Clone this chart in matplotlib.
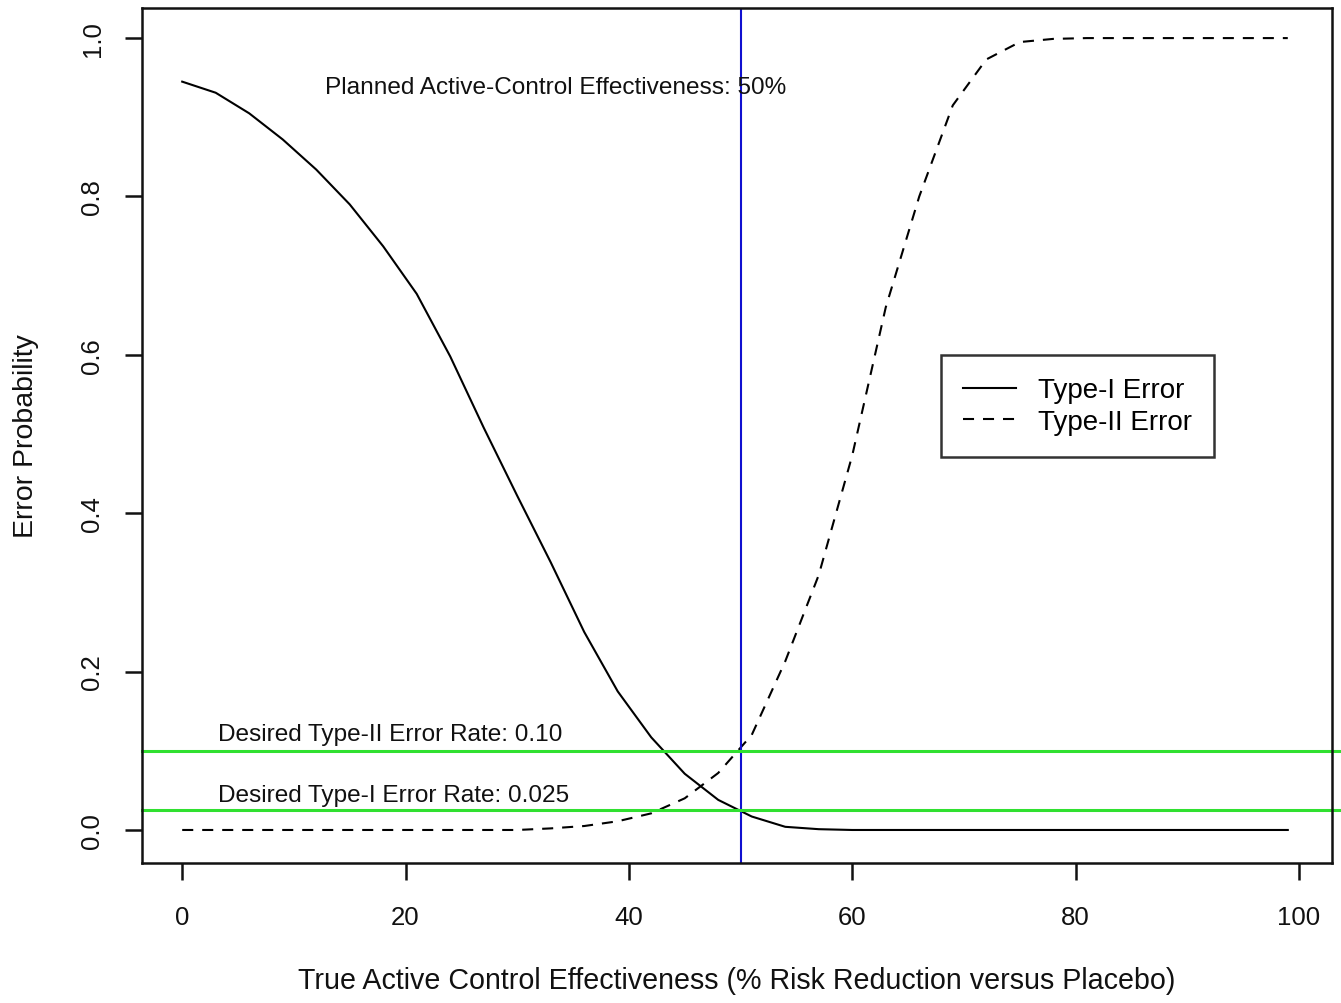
import matplotlib
matplotlib.use("Agg")
import matplotlib.pyplot as plt

plt.rcParams['font.family'] = ['Liberation Sans', 'DejaVu Sans']

# Data
effectiveness = [0, 3, 6, 9, 12, 15, 18, 21, 24, 27, 30, 33, 36, 39, 42, 45, 48,
                 51, 54, 57, 60, 63, 66, 69, 72, 75, 78, 81, 84, 87, 90, 93, 96, 99]
type1_error = [0.945, 0.931, 0.905, 0.872, 0.834, 0.790, 0.737, 0.677, 0.598, 0.508,
               0.422, 0.338, 0.250, 0.175, 0.117, 0.071, 0.038, 0.017, 0.004, 0.001,
               0.0, 0.0, 0.0, 0.0, 0.0, 0.0, 0.0, 0.0, 0.0, 0.0, 0.0, 0.0, 0.0, 0.0]
type2_error = [0.0, 0.0, 0.0, 0.0, 0.0, 0.0, 0.0, 0.0, 0.0, 0.0, 0.0, 0.002, 0.005,
               0.011, 0.021, 0.040, 0.072, 0.120, 0.213, 0.322, 0.473, 0.660, 0.800,
               0.915, 0.973, 0.995, 0.999, 1.0, 1.0, 1.0, 1.0, 1.0, 1.0, 1.0]
planned_effectiveness = 50
desired_type2 = 0.10
desired_type1 = 0.025
x_ticks = [0, 20, 40, 60, 80, 100]
y_ticks = [0.0, 0.2, 0.4, 0.6, 0.8, 1.0]
y_tick_labels = ["0.0", "0.2", "0.4", "0.6", "0.8", "1.0"]

W, H = 1341, 1004
fig = plt.figure(figsize=(W / 100, H / 100), dpi=100)
ax = fig.add_axes([142 / W, 1 - 864 / H, (1332 - 142) / W, (864 - 9) / H])

ax.plot(effectiveness, type1_error, color='black', lw=1.5, label='Type-I Error')
ax.plot(effectiveness, type2_error, color='black', lw=1.5, dashes=(5.3, 4.3),
        label='Type-II Error')

ax.axvline(planned_effectiveness, color='#1010d0', lw=1.5)
ax.axhline(desired_type2, xmin=0, xmax=1.01, color='#30e030', lw=2.2, clip_on=False)
ax.axhline(desired_type1, xmin=0, xmax=1.01, color='#30e030', lw=2.2, clip_on=False)

ann = 17.6
ax.text(33.4, 0.938, "Planned Active-Control Effectiveness: 50%", ha='center',
        va='center', fontsize=ann, color='#111111')
ax.text(3.2, 0.121, "Desired Type-II Error Rate: 0.10", ha='left', va='center',
        fontsize=ann, color='#111111')
ax.text(3.2, 0.044, "Desired Type-I Error Rate: 0.025", ha='left', va='center',
        fontsize=ann, color='#111111')

ax.set_xlim(-3.6, 102.96)
ax.set_ylim(-0.0417, 1.038)
ax.set_xticks(x_ticks)
ax.set_yticks(y_ticks)
ax.set_yticklabels(y_tick_labels, rotation=90, va='center')
ax.tick_params(axis='both', direction='out', length=12, width=1.8, labelsize=18.5,
               colors='#111111')
ax.tick_params(axis='x', pad=18)
ax.tick_params(axis='y', pad=15)
for s in ax.spines.values():
    s.set_linewidth(1.8)
    s.set_color('#111111')

ax.set_xlabel("True Active Control Effectiveness (% Risk Reduction versus Placebo)",
              fontsize=20.6, labelpad=27, color='#111111')
ax.set_ylabel("Error Probability", fontsize=20.5, labelpad=30, color='#111111')

leg = ax.legend(loc='upper left', bbox_to_anchor=((941 - 142) / 1190, 1 - (356 - 9) / 855),
                prop={'size': 20}, frameon=True, fancybox=False,
                edgecolor='black', handlelength=1.9, handletextpad=0.8,
                borderpad=0.8, labelspacing=0.2, borderaxespad=0)
leg.get_frame().set_linewidth(1.8)

fig.savefig("out.png", dpi=100)
